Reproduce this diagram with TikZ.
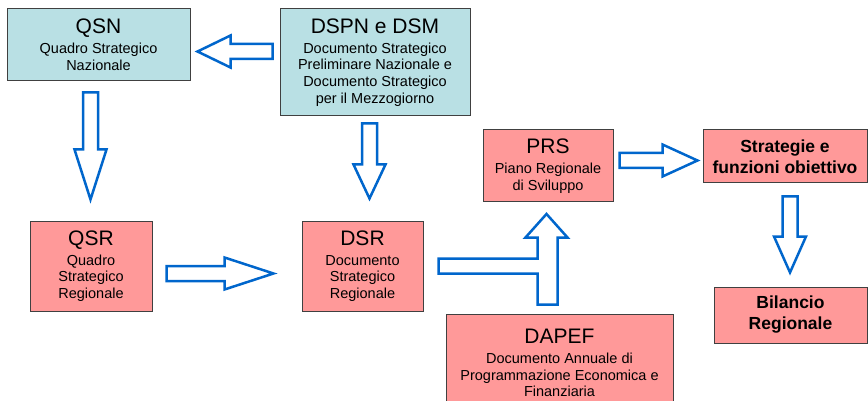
\documentclass[tikz,border=0pt]{standalone}
\usepackage{fontspec}
\setmainfont{Liberation Sans}
\usetikzlibrary{calc}
\definecolor{natcol}{RGB}{185,224,228}
\definecolor{regcol}{RGB}{255,153,153}
\definecolor{arrowblue}{RGB}{0,102,204}
\tikzset{
	box/.style={draw=black!75, line width=1pt, align=center, inner sep=0pt,
		font=\fontsize{14.5}{16.7}\selectfont},
	natbox/.style={box, fill=natcol},
	regbox/.style={box, fill=regcol},
	boldbox/.style={regbox, font=\bfseries\fontsize{17.5}{21}\selectfont},
	blockarrow/.style={draw=arrowblue, line width=2.5pt, fill=white, line join=miter}
}
\newcommand\boxtitle[1]{{\fontsize{21}{21}\selectfont #1}\\[3.3pt]}
\def\fatarrow(#1)(#2)#3{\draw[blockarrow] let \p1=(#1), \p2=(#2),
	\n1={veclen(\x2-\x1,\y2-\y1)}, \n2={atan2(\y2-\y1,\x2-\x1)} in
	[shift={(\p1)}, rotate=\n2]
	(0,-7.5) -- (\n1-#3,-7.5) -- (\n1-#3,-16) -- (\n1,0) -- (\n1-#3,16) -- (\n1-#3,7.5) -- (0,7.5) -- cycle;}

\begin{document}
\begin{tikzpicture}[x=1pt, y=-1pt]
			%%%%% START %%%%%
			\useasboundingbox (0,0) rectangle (868,401);
			
			\node[natbox, minimum width=183, minimum height=72] (qsn) at (98.5,45)
				{\boxtitle{QSN}Quadro Strategico\\Nazionale};
			\node[natbox, minimum width=190, minimum height=107] (dspn) at (375,62.5)
				{\boxtitle{DSPN e DSM}Documento Strategico\\Preliminare Nazionale e\\Documento Strategico\\per il Mezzogiorno};
			
			\node[regbox, minimum width=122, minimum height=90] (qsr) at (91,266)
				{\boxtitle{QSR}Quadro\\Strategico\\Regionale};
			\node[regbox, minimum width=121, minimum height=90] (dsr) at (362.5,266)
				{\boxtitle{DSR}Documento\\Strategico\\Regionale};
			\node[regbox, minimum width=130, minimum height=72] (prs) at (548,166)
				{\boxtitle{PRS}Piano Regionale\\di Sviluppo};
			\node[regbox, minimum width=227, minimum height=98] (dapef) at (559.5,363)
				{\boxtitle{DAPEF}Documento Annuale di\\Programmazione Economica e\\Finanziaria};
			
			\node[boldbox, minimum width=164, minimum height=53] (strat) at (785,156.5)
				{Strategie e\\funzioni obiettivo};
			\node[boldbox, minimum width=153, minimum height=56] (bil) at (790.5,315)
				{Bilancio\\Regionale};
			
			% block arrows
			\coordinate (a1s) at ($(dspn.west)+(-7,-11)$);
			\coordinate (a1e) at ($(qsn.east)+(7,6.5)$);
			\coordinate (a2s) at ($(qsn.south)+(-8,11)$);
			\coordinate (a2e) at ($(qsr.north)+(-0.5,-21)$);
			\coordinate (a3s) at ($(dspn.south)+(-5.5,7)$);
			\coordinate (a3e) at ($(dsr.north)+(7,-22)$);
			\coordinate (a4s) at ($(qsr.east)+(14,7.5)$);
			\coordinate (a4e) at ($(dsr.west)+(-28,7.5)$);
			\coordinate (a5s) at ($(prs.east)+(6,-5.5)$);
			\coordinate (a5e) at ($(strat.west)+(-5,4)$);
			\coordinate (a6s) at ($(strat.south)+(5,13)$);
			\coordinate (a6e) at ($(bil.north)+(-0.5,-14)$);
			
			\fatarrow(a1s)(a1e){33}
			\fatarrow(a2s)(a2e){50}
			\fatarrow(a3s)(a3e){34}
			\fatarrow(a4s)(a4e){49}
			\fatarrow(a5s)(a5e){35}
			\fatarrow(a6s)(a6e){36}
			
			% DSR and DAPEF into PRS
			\coordinate (e0) at ($(dsr.east)+(15,0)$);
			\draw[blockarrow] (e0) ++(0,-7.5) -- ++(99,0) -- ++(0,-21) -- ++(-12,0) -- ++(21,-23.5)
				-- ++(21,23.5) -- ++(-10,0) -- ++(0,67) -- ++(-20,0) -- ++(0,-31) -- ++(-99,0) -- cycle;
			
			%%%%% END %%%%%
\end{tikzpicture}
\end{document}
